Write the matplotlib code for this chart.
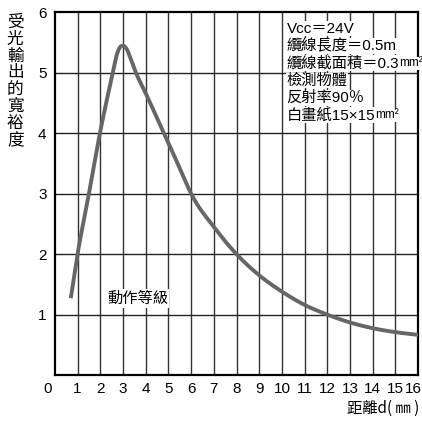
import numpy as np
import matplotlib

matplotlib.use('Agg')

import matplotlib.pyplot as plt
from matplotlib.transforms import ScaledTranslation

plt.rcParams['font.family'] = ['Liberation Sans', 'Noto Sans CJK TC', 'DejaVu Sans']

# curve
distance = [0.70, 1.0, 1.5, 2.0, 2.55, 2.7, 2.85, 3.0, 3.15, 3.3, 3.57, 4.0, 4.5,
            5.0, 5.5, 6.0, 7.0, 8.0, 9.0, 10.0, 11.0, 12.0, 13.0, 14.0, 15.0, 16.0]
margin = [1.27, 2.0, 3.0, 4.03, 5.0, 5.26, 5.41, 5.445, 5.40, 5.27, 5.0, 4.66, 4.25,
          3.84, 3.42, 3.0, 2.45, 2.0, 1.65, 1.38, 1.16, 1.0, 0.87, 0.775, 0.71, 0.665]

x_ticks = list(range(0, 17))
y_ticks = [1, 2, 3, 4, 5, 6]

notes = ['Vcc＝24V', '纜線長度＝0.5m', '纜線截面積＝0.3',
         '檢測物體', '反射率90％', '白畫紙15×15']
note_units = ['', '', 'mm²', '', '', 'mm²']


def hermite(px, py, xs):
    # cubic hermite, slopes from weighted central differences
    px = np.asarray(px, float)
    py = np.asarray(py, float)
    h = np.diff(px)
    d = np.diff(py) / h
    m = np.empty_like(py)
    m[1:-1] = (d[:-1] * h[1:] + d[1:] * h[:-1]) / (h[:-1] + h[1:])
    m[0] = d[0]
    m[-1] = d[-1]
    idx = np.clip(np.searchsorted(px, xs) - 1, 0, len(h) - 1)
    t = (xs - px[idx]) / h[idx]
    h00 = 2 * t ** 3 - 3 * t ** 2 + 1
    h10 = t ** 3 - 2 * t ** 2 + t
    h01 = -2 * t ** 3 + 3 * t ** 2
    h11 = t ** 3 - t ** 2
    return (h00 * py[idx] + h10 * h[idx] * m[idx]
            + h01 * py[idx + 1] + h11 * h[idx] * m[idx + 1])


fig = plt.figure(figsize=(4.22, 4.21), dpi=100)
ax = fig.add_axes([0.130, 0.109, 0.861, 0.862])

for xv in range(1, 16):
    ax.axvline(xv, color='#333333', lw=1.0, zorder=1)
for yv in range(1, 6):
    ax.axhline(yv, color='#222222', lw=1.0, zorder=1)

xs = np.linspace(distance[0], distance[-1], 1000)
ax.plot(xs, hermite(distance, margin, xs), color='#666666', lw=2.8,
        solid_capstyle='butt', zorder=3)

ax.set_xlim(0, 16)
ax.set_ylim(0, 6)
ax.set_xticks(x_ticks)
ax.set_yticks(y_ticks)
ax.tick_params(length=0, labelsize=11, pad=5)
ax.tick_params(axis='y', pad=6)
xl = ax.get_xticklabels()
xl[0].set_transform(xl[0].get_transform() + ScaledTranslation(-0.07, 0, fig.dpi_scale_trans))
xl[-1].set_transform(xl[-1].get_transform() + ScaledTranslation(-0.05, 0, fig.dpi_scale_trans))
for s in ax.spines.values():
    s.set_linewidth(1.6)
    s.set_color('black')

bg = dict(facecolor='white', edgecolor='none', pad=0.5)
ax.text(2.3, 1.27, '動作等級', fontsize=11, va='center', ha='left',
        bbox=bg, zorder=4, family=['Noto Sans CJK TC'])

y0 = 5.73
for i, line in enumerate(notes):
    t = ax.text(10.2, y0 - i * 0.287, line, fontsize=11, va='center', ha='left',
                bbox=bg, zorder=4, family=['Liberation Sans', 'Noto Sans CJK TC'])
    if note_units[i]:
        ax.annotate(note_units[i], xy=(1, 0.5), xycoords=t, va='center', ha='left',
                    fontsize=8.5, zorder=4, bbox=bg)

fig.text(0.036, 0.968, '\n'.join('受光輸出的寬裕度'), fontsize=12,
         ha='center', va='top', linespacing=1.0, family=['Noto Sans CJK TC'])
fig.text(0.993, 0.02, '距離d( ㎜ )', fontsize=11, ha='right', va='baseline',
         family=['Noto Sans CJK TC'])

plt.savefig('out.png', dpi=100)
